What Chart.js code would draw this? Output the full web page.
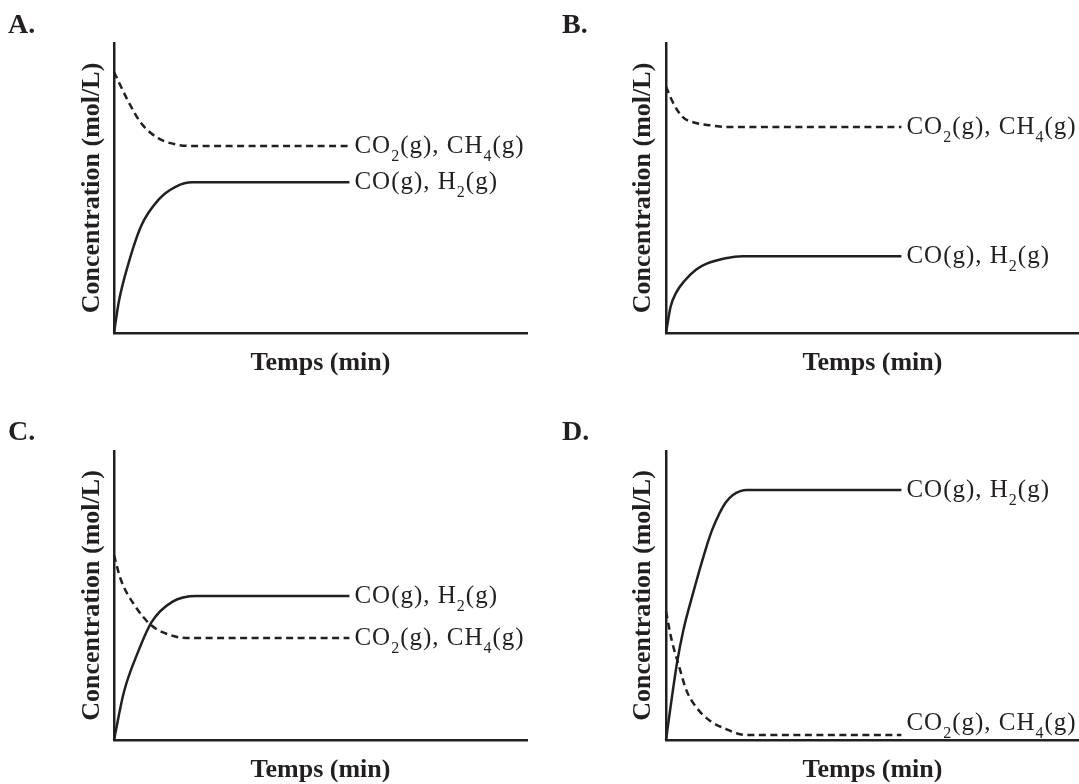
<!DOCTYPE html>
<html>
<head>
<meta charset="utf-8">
<script src="https://cdn.jsdelivr.net/npm/chart.js@4.4.1/dist/chart.umd.min.js"></script>
<style>
  html, body { margin: 0; padding: 0; background: #fff; overflow: hidden; }
  body { position: relative; width: 1079px; height: 784px; }
  canvas { position: absolute; }
</style>
</head>
<body>
<canvas id="chartA" width="540" height="392" style="left:0;top:0"></canvas>
<canvas id="chartB" width="539" height="392" style="left:540px;top:0"></canvas>
<canvas id="chartC" width="540" height="400" style="left:0;top:392px"></canvas>
<canvas id="chartD" width="539" height="400" style="left:540px;top:392px"></canvas>
<script>
// Curve points: [time, concentration], both on a 0-100 scale
const reactantsA = [[0, 90], [3.3, 80.3], [6.6, 72.3], [10.8, 67.1], [15.8, 64.8], [19, 64.5], [57, 64.5]];
const productsA = [[0, 0], [1.2, 11], [3.3, 23], [6.6, 37], [10.8, 46], [15, 50.5], [19, 52], [57, 52]];

const reactantsB = [[0, 85], [1.5, 80], [4, 74.5], [7, 72.5], [11.4, 71.5], [15, 71], [57, 71]];
const productsB = [[0, 0], [1.1, 9], [2.5, 14], [4.5, 18], [7.4, 22], [10, 24], [14.4, 25.8], [18.5, 26.5], [57, 26.5]];

const reactantsC = [[0, 64], [1.6, 55.7], [5, 46.6], [9.1, 39.6], [14.1, 36.1], [17.5, 35.3], [57, 35.3]];
const productsC = [[0, 0], [2.4, 16.6], [5.8, 30.4], [9.1, 40.8], [14.1, 47.8], [20, 49.8], [57, 49.8]];

const reactantsD = [[0, 44.5], [1.4, 34.4], [3, 26.3], [5, 17], [7.4, 11.2], [10.7, 6.6], [14.7, 3.7], [17.9, 2], [21, 1.7], [57, 1.7]];
const productsD = [[0, 0], [1.4, 14.5], [2.7, 27], [4.2, 38], [6.2, 49], [9.6, 66], [11.2, 72.8], [12.9, 78.3], [14.5, 82.3], [16.2, 84.8], [18, 86.1], [19.6, 86.5], [57, 86.5]];

// "_n" marks a subscript digit
const reactantLabel = "CO_2(g), CH_4(g)";
const productLabel = "CO(g), H_2(g)";
const xTitle = "Temps (min)";
const yTitle = "Concentration (mol/L)";

const ink = "#231f20";
const serif = '"Liberation Serif", "Times New Roman", serif';

// draw a formula like CO_2(g) with small lowered digits
function drawFormula(ctx, text, x, y) {
  const parts = text.split(/_(\d)/);
  ctx.save();
  ctx.fillStyle = ink;
  ctx.textAlign = "left";
  ctx.textBaseline = "alphabetic";
  ctx.letterSpacing = "1px";
  parts.forEach((p, k) => {
    if (k % 2) {
      ctx.font = "16px " + serif;
      ctx.fillText(p, x, y + 8);
    } else {
      ctx.font = "25px " + serif;
      ctx.fillText(p, x, y);
    }
    x += ctx.measureText(p).width;
  });
  ctx.restore();
}

// labels at the right end of each curve
const endLabels = {
  id: "endLabels",
  afterDatasetsDraw(chart) {
    chart.data.datasets.forEach((ds, i) => {
      const pts = chart.getDatasetMeta(i).data;
      const last = pts[pts.length - 1];
      const dy = ds.labelDy !== undefined ? ds.labelDy : 7;
      drawFormula(chart.ctx, ds.label, last.x + 5, last.y + dy);
    });
  },
};

// panel letter (A., B., ...) in the corner
const panelLetter = {
  id: "panelLetter",
  afterDraw(chart, args, opts) {
    const ctx = chart.ctx;
    ctx.save();
    ctx.fillStyle = ink;
    ctx.font = "bold 28px " + serif;
    ctx.textBaseline = "alphabetic";
    ctx.fillText(opts.text, opts.x, opts.y);
    ctx.restore();
  },
};

function toPoints(pairs) {
  return pairs.map((p) => ({ x: p[0], y: p[1] }));
}

function createPanel(id, letter, reactants, products, box) {
  const ctx = document.getElementById(id).getContext("2d");
  return new Chart(ctx, {
    type: "line",
    data: {
      datasets: [
        {
          label: reactantLabel,
          data: toPoints(reactants),
          borderColor: ink,
          borderWidth: 2.5,
          borderDash: [7, 4.5],
          pointRadius: 0,
          cubicInterpolationMode: "monotone",
          clip: false,
          labelDy: box.reactantDy,
        },
        {
          label: productLabel,
          data: toPoints(products),
          borderColor: ink,
          borderWidth: 2.5,
          pointRadius: 0,
          cubicInterpolationMode: "monotone",
          clip: false,
        },
      ],
    },
    options: {
      responsive: false,
      animation: false,
      events: [],
      layout: {
        padding: { left: box.left, right: box.right, top: box.top, bottom: box.bottom },
      },
      scales: {
        x: {
          type: "linear",
          min: 0,
          max: 100,
          ticks: { display: false },
          grid: { display: false, drawTicks: false },
          border: { display: true, color: ink, width: 2.5 },
          title: {
            display: true,
            text: xTitle,
            color: ink,
            font: { family: serif, size: 26, weight: "bold" },
            padding: { top: 14.4, bottom: 0 },
          },
        },
        y: {
          min: 0,
          max: 100,
          ticks: { display: false },
          grid: { display: false, drawTicks: false },
          border: { display: true, color: ink, width: 2.5 },
          title: {
            display: true,
            text: yTitle,
            color: ink,
            font: { family: serif, size: 26, weight: "bold" },
            padding: { top: 4, bottom: box.yGap },
          },
        },
      },
      plugins: {
        legend: { display: false },
        tooltip: { enabled: false },
        panelLetter: { text: letter, x: box.letterX, y: box.letterY },
      },
    },
    plugins: [endLabels, panelLetter],
  });
}

createPanel("chartA", "A.", reactantsA, productsA,
  { left: 72.4, right: 13, top: 43, bottom: 13.4, yGap: 6.4, letterX: 8, letterY: 33, reactantDy: 7 });
createPanel("chartB", "B.", reactantsB, productsB,
  { left: 83.4, right: 0, top: 43, bottom: 13.4, yGap: 7.4, letterX: 22, letterY: 33, reactantDy: 7 });
createPanel("chartC", "C.", reactantsC, productsC,
  { left: 72.4, right: 13, top: 59, bottom: 6.4, yGap: 6.4, letterX: 8, letterY: 48, reactantDy: 7 });
createPanel("chartD", "D.", reactantsD, productsD,
  { left: 83.4, right: 0, top: 59, bottom: 6.4, yGap: 7.4, letterX: 22, letterY: 48, reactantDy: -5 });
</script>
</body>
</html>
